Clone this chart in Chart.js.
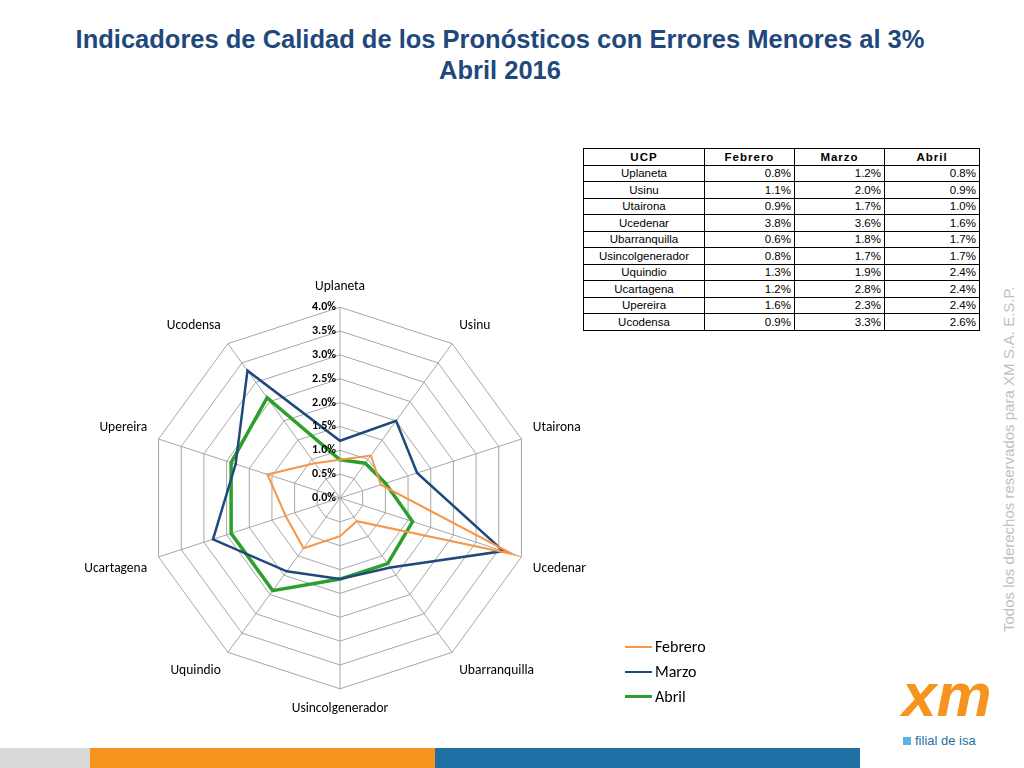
<!DOCTYPE html>
<html><head><meta charset="utf-8">
<script src="https://cdn.jsdelivr.net/npm/chart.js@4.4.0/dist/chart.umd.min.js"></script>
<style>
body{margin:0;width:1024px;height:768px;position:relative;background:#fff;font-family:"Liberation Sans",Arial,sans-serif;overflow:hidden}
#title{position:absolute;top:24px;left:-12px;width:1024px;text-align:center;color:#1F497D;font-weight:bold;font-size:25.5px;line-height:31px}
#wrap{position:absolute;left:50px;top:279px;width:580px;height:438px}
table{position:absolute;left:583px;top:148px;border-collapse:collapse;font-size:11.5px}
td,th{border:1px solid #000;padding:0;height:15.5px;text-align:center}
th{font-weight:bold;letter-spacing:1px}
td.r{text-align:right;padding-right:3px}
#legend{position:absolute;left:625px;top:634px;font-family:Calibri,Carlito,"Liberation Sans",sans-serif;font-size:16px}
#legend div{height:25px;display:flex;align-items:center}
#legend span{display:inline-block;width:27px;margin-right:3px}
#side{position:absolute;left:1000px;top:632px;transform-origin:0 0;transform:rotate(-90deg);color:#bfbfbf;font-size:15px;white-space:nowrap;width:400px}
.bar{position:absolute;top:748px;height:20px}
</style></head><body>
<div id="title">Indicadores de Calidad de los Pronósticos con Errores Menores al 3%<br>Abril 2016</div>
<table id="tbl"></table>
<div id="wrap"><canvas id="c"></canvas></div>
<div id="legend"></div>
<div id="side">Todos los derechos reservados para XM S.A. E.S.P.</div>
<div class="bar" style="left:0;width:90px;background:#d9d9d9"></div>
<div class="bar" style="left:90px;width:345px;background:#f7941d"></div>
<div class="bar" style="left:435px;width:425px;background:#1f6fa5"></div>
<div style="position:absolute;left:902px;top:660px;width:88px;height:70px;font:bold italic 62px 'Liberation Sans';color:#f7941d;line-height:70px">xm</div>
<div style="position:absolute;left:903px;top:733px;font-size:13px;color:#1f6fa5"><span style="display:inline-block;width:8px;height:8px;background:#5ab4e5;margin-right:4px"></span>filial de isa</div>
<script>
const ucps = ['Uplaneta','Usinu','Utairona','Ucedenar','Ubarranquilla','Usincolgenerador','Uquindio','Ucartagena','Upereira','Ucodensa'];
const febrero = [0.8,1.1,0.9,3.8,0.6,0.8,1.3,1.2,1.6,0.9];
const marzo = [1.2,2.0,1.7,3.6,1.8,1.7,1.9,2.8,2.3,3.3];
const abril = [0.8,0.9,1.0,1.6,1.7,1.7,2.4,2.4,2.4,2.6];
const seriesNames = ['Febrero','Marzo','Abril'];
const colors = ['#F79646','#1F497D','#2CA02C'];
const widths = [2,2.5,3.5];

let h = '<tr><th style="width:120px">UCP</th><th style="width:89px">Febrero</th><th style="width:89px">Marzo</th><th style="width:94px">Abril</th></tr>';
ucps.forEach((u,i)=>{
  h += `<tr><td>${u}</td><td class="r">${febrero[i].toFixed(1)}%</td><td class="r">${marzo[i].toFixed(1)}%</td><td class="r">${abril[i].toFixed(1)}%</td></tr>`;
});
document.getElementById('tbl').innerHTML = h;
document.getElementById('legend').innerHTML = seriesNames.map((n,i)=>`<div><span style="border-top:${widths[i]}px solid ${colors[i]}"></span>${n}</div>`).join('');

// tick labels drawn left of the vertical axis
const tickPlugin = {
  id:'ticksLeft',
  afterDraw(chart){
    const s = chart.scales.r, ctx = chart.ctx;
    ctx.save();
    ctx.font = 'bold 12px Calibri, Carlito, "Liberation Sans", sans-serif';
    ctx.fillStyle = '#000';
    ctx.textAlign = 'right';
    ctx.textBaseline = 'middle';
    for (let v = 0; v <= 4.0001; v += 0.5) {
      const p = s.getPointPositionForValue(0, v);
      ctx.fillText(v.toFixed(1)+'%', p.x - 4, p.y);
    }
    ctx.restore();
  }
};

new Chart(document.getElementById('c'), {
  type:'radar',
  data:{
    labels:ucps,
    datasets:[febrero,marzo,abril].map((d,i)=>({
      label:seriesNames[i], data:d, borderColor:colors[i], borderWidth:widths[i],
      pointRadius:0, fill:false, tension:0
    }))
  },
  options:{
    responsive:true, maintainAspectRatio:false, animation:false,
    plugins:{legend:{display:false}, tooltip:{enabled:false}},
    scales:{r:{
      min:0, max:4,
      ticks:{stepSize:0.5, display:false},
      grid:{color:'#a6a6a6'},
      angleLines:{color:'#a6a6a6'},
      pointLabels:{color:'#000', font:{size:13.5, family:'Calibri, Carlito, "Liberation Sans", sans-serif'}, padding:12}
    }}
  },
  plugins:[tickPlugin]
});
</script>
</body></html>
